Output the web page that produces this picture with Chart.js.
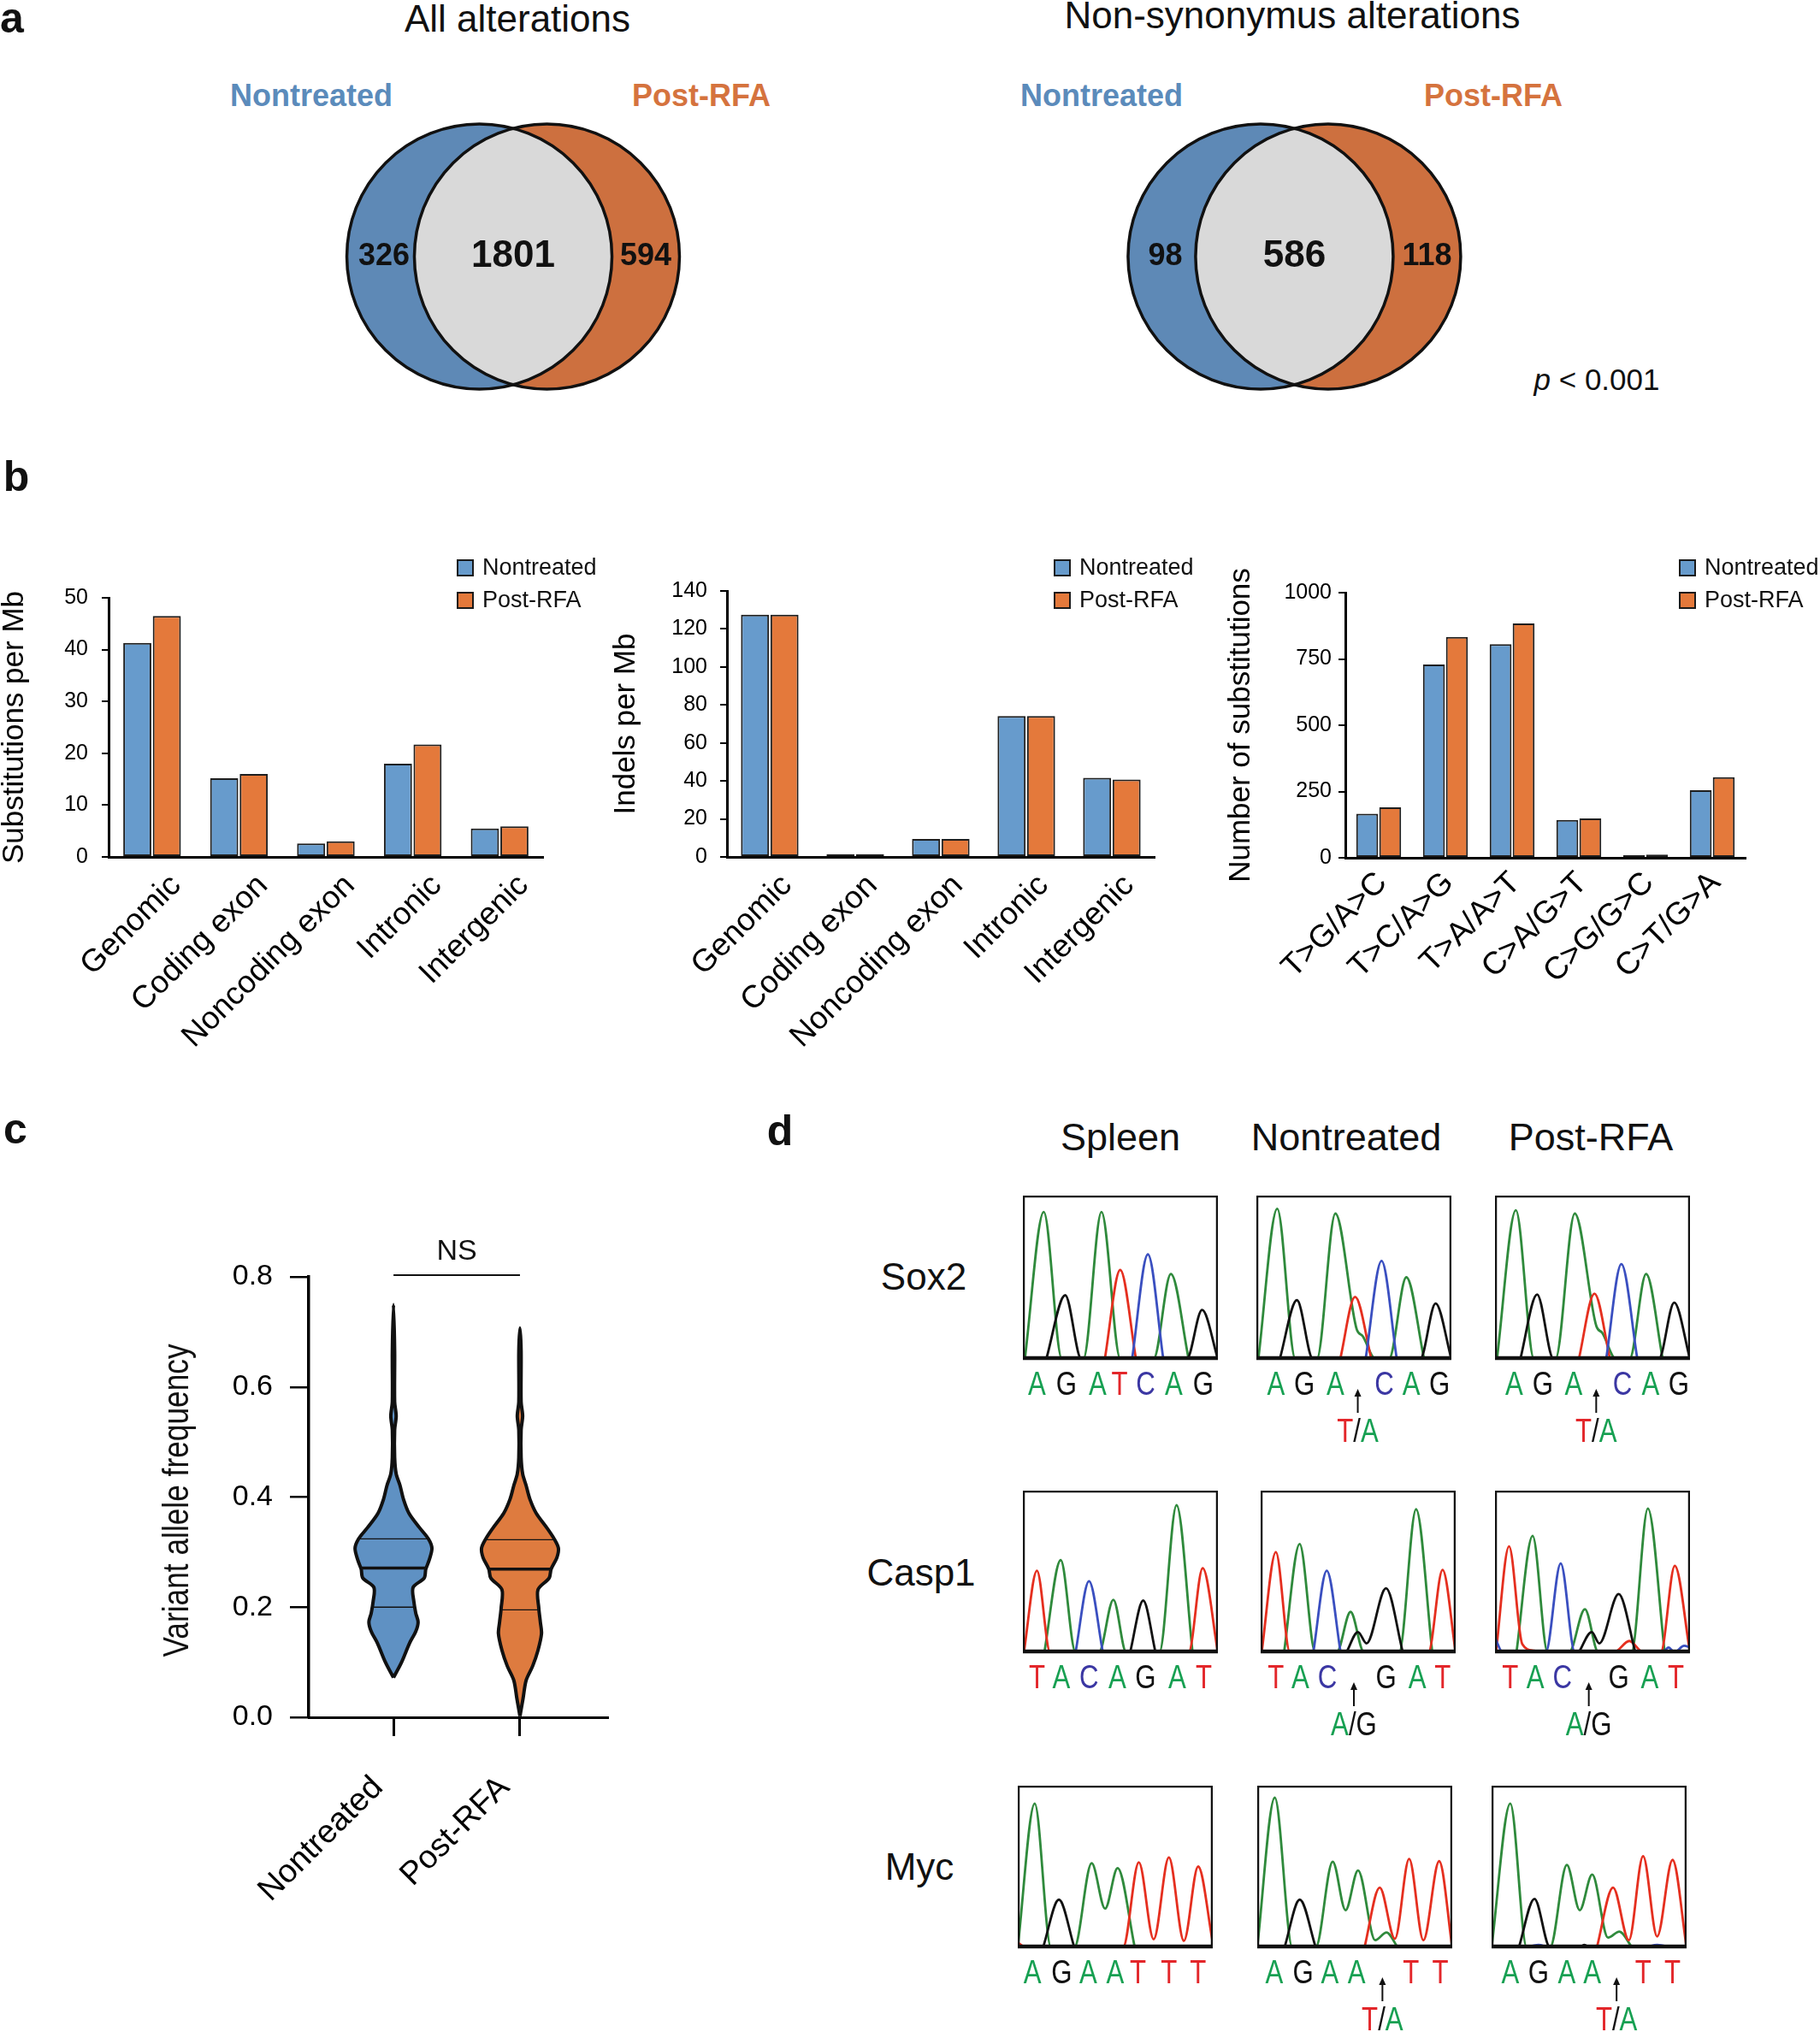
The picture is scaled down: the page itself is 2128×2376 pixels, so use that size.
<!DOCTYPE html>
<html><head><meta charset="utf-8">
<script src="https://cdn.jsdelivr.net/npm/chart.js@4.4.1/dist/chart.umd.min.js"></script>
<style>
html,body{margin:0;padding:0;background:#fff;}
#root{position:relative;width:2128px;height:2376px;overflow:hidden;background:#fff;font-family:'Liberation Sans',Arial,sans-serif;}
#root canvas{position:absolute;}
.t{position:absolute;transform:translate(-50%,-50%);white-space:nowrap;line-height:1;color:#111;}
</style></head><body><div id="root"></div>
<script>
// ================= DATA =================
const GROUPS = ['Nontreated', 'Post-RFA'];

// Venn counts: [only Nontreated, shared, only Post-RFA]
const VENN_ALL = [326, 1801, 594];
const VENN_NONSYN = [98, 586, 118];

// Panel b
const REGION_CATS = ['Genomic', 'Coding exon', 'Noncoding exon', 'Intronic', 'Intergenic'];
const SUBS_NT  = [41.3, 15.2, 2.6, 18.0, 5.5];
const SUBS_RFA = [46.5, 16.0, 3.0, 21.7, 5.9];
const INDEL_NT  = [127.5, 1.5, 9.5, 74.2, 41.6];
const INDEL_RFA = [127.5, 1.5, 9.5, 74.2, 40.7];
const SPEC_CATS = ['T>G/A>C', 'T>C/A>G', 'T>A/A>T', 'C>A/G>T', 'C>G/G>C', 'C>T/G>A'];
const SPEC_NT  = [166, 729, 806, 143, 10, 255];
const SPEC_RFA = [190, 833, 884, 148, 12, 304];

// Panel c: violin outlines (VAF level, relative density) and quartiles
const VAF_LEVELS_NT = [0.072, 0.10, 0.135, 0.156, 0.173, 0.189, 0.21, 0.236, 0.253, 0.269, 0.286, 0.307, 0.324, 0.345, 0.371, 0.396, 0.421, 0.442, 0.472, 0.522, 0.547, 0.573, 0.665, 0.75];
const VAF_DENS_NT   = [0, 0.21, 0.42, 0.58, 0.64, 0.58, 0.53, 0.51, 0.80, 0.84, 0.93, 1.0, 0.91, 0.67, 0.40, 0.26, 0.17, 0.07, 0.03, 0.03, 0.07, 0.03, 0.03, 0];
const VAF_LEVELS_RFA = [0.002, 0.034, 0.067, 0.093, 0.122, 0.152, 0.173, 0.198, 0.232, 0.253, 0.269, 0.29, 0.307, 0.324, 0.345, 0.371, 0.396, 0.421, 0.442, 0.472, 0.522, 0.547, 0.573, 0.665, 0.707];
const VAF_DENS_RFA   = [0, 0.08, 0.16, 0.33, 0.47, 0.56, 0.53, 0.49, 0.47, 0.76, 0.81, 0.96, 1.0, 0.89, 0.69, 0.42, 0.26, 0.16, 0.07, 0.03, 0.03, 0.07, 0.03, 0.03, 0];
const VAF_QUART_NT  = [0.200, 0.271, 0.324];
const VAF_QUART_RFA = [0.195, 0.269, 0.3225];
const NS_LEVEL = 0.803;

// Panel d: chromatogram traces [position, signal] per base
const SOX2_SPLEEN = {
  A: [[1,0],[10.7,90],[20,0],[31,0],[40.3,90],[50,0],[67,0],[75.9,52],[85,0]],
  G: [[12,0],[21.7,39],[30,0],[84,0],[91.9,30],[100,0]],
  T: [[42,0],[49.9,54.5],[58,0]],
  C: [[56,0],[64.1,64],[72,0]]
};
const SOX2_NT = {
  A: [[1,0],[10.7,92],[20,0],[31,0],[40.5,89],[51.5,18],[54.5,14],[61,0],[68,0],[76.9,50],[86,0]],
  G: [[12,0],[20.8,36],[29,0],[84,0],[91.9,34],[100,0]],
  T: [[43,0],[50.6,38],[59,0]],
  C: [[56,0],[64.2,60],[72,0]]
};
const SOX2_RFA = {
  A: [[1,0],[10.7,91],[20,0],[31,0],[40.9,89],[52,20],[55,16],[62,0],[69,0],[77.5,52],[86,0]],
  G: [[13,0],[21.6,39.5],[30,0],[84,0],[91.9,34.5],[100,0]],
  T: [[43,0],[51,40],[59,0]],
  C: [[57,0],[64.8,58],[73,0]]
};
const CASP1_SPLEEN = {
  T: [[0.5,0],[7.2,50.5],[14,0],[85,0],[92.2,52],[100,0]],
  A: [[11,0],[19.4,57],[27,0],[39,0],[46.4,32.5],[53,0],[70,0],[78.8,91],[87,0]],
  C: [[27,0],[33.9,44],[41,0]],
  G: [[55,0],[61.7,32],[68,0]]
};
const CASP1_NT = {
  T: [[0.5,0],[7.8,62],[15,0],[86,0],[93.3,51],[100,0]],
  A: [[12,0],[20,67],[28,0],[39,0],[46.1,25],[53,0],[71,0],[79.7,88.5],[88,0]],
  C: [[27,0],[33.9,50.5],[41,0]],
  G: [[44,0],[49.9,12.5],[54.3,5.5],[64.3,39.6],[72.9,0]]
};
const CASP1_RFA = {
  T: [[0.5,0],[7.2,65.5],[14,5],[20,1],[24,0],[61,0],[68.9,7],[76,0],[85,0],[92.2,53.5],[100,0]],
  A: [[11,0],[19.3,72],[27,0],[38,0],[46.1,26.7],[53,0],[70,0],[78.4,89],[87,0]],
  C: [[0,9],[4,0],[26,0],[33.7,55],[41,0],[86,0],[89,3],[92,0],[97,4],[100,3]],
  G: [[43,0],[49.6,12.5],[53.5,5.5],[63.4,36],[72,0]]
};
const MYC_SPLEEN = {
  A: [[0,0],[8.7,89],[17,0],[29,0],[37.9,52],[44.8,24],[51.2,49],[60,0]],
  G: [[13,0],[21.1,29.5],[29,0]],
  T: [[0,3],[4,0],[54,0],[62.1,52.6],[69.7,5],[77.5,55.6],[85.2,4],[92.5,50],[100,3]]
};
const MYC_NT = {
  A: [[0,0],[9,92.6],[18,0],[30,0],[38.7,53],[45.3,23],[51.7,47.6],[60.5,4.4],[66.3,9.2],[72,0]],
  G: [[14,0],[21.8,29.5],[30,0]],
  T: [[55,0],[62.8,37],[70.6,5.3],[77.9,54.7],[85.2,4.4],[93.3,53.3],[100,0]]
};
const MYC_RFA = {
  A: [[0,0],[9.6,89],[18,0],[30,0],[38.6,51],[45.2,23],[51.6,45],[59.7,6],[65.5,9.7],[72,0]],
  G: [[14,0],[22,30],[30,0],[45,0],[47.5,1.5],[50,0]],
  T: [[54,0],[62.3,37],[70.4,4.4],[77.7,56.4],[84.9,6.7],[92.8,54.1],[100,0]],
  C: [[18,0],[24,1.5],[30,0],[78,0],[85,1.5],[92,0]]
};

// base calls (null = heterozygous site marked with arrow) and their positions
const SOX2_SEQ_SPLEEN = ['A','G','A','T','C','A','G'];
const SOX2_SEQ_MUT    = ['A','G','A',null,'C','A','G'];
const SOX2_POS_SPLEEN = [7.2, 22.3, 38.3, 49.6, 62.9, 77.4, 92.5];
const SOX2_POS_NT     = [10.1, 24.6, 40.5, 52, 65.6, 79.5, 93.9];
const SOX2_POS_RFA    = [9.8, 24.5, 40.3, 51.9, 65.4, 79.8, 94.2];
const SOX2_HET = ['T', 'A'];
const CASP1_SEQ_SPLEEN = ['T','A','C','A','G','A','T'];
const CASP1_SEQ_MUT    = ['T','A','C',null,'G','A','T'];
const CASP1_POS_SPLEEN = [7.2, 19.7, 33.9, 48.4, 62.9, 79.1, 92.8];
const CASP1_POS_NT     = [7.8, 20.3, 34.2, 47.8, 64.3, 80.3, 93.3];
const CASP1_POS_RFA    = [7.8, 20.7, 34.6, 48.1, 63.4, 79.3, 92.8];
const CASP1_HET = ['A', 'G'];
const MYC_SEQ_SPLEEN = ['A','G','A','A','T','T','T'];
const MYC_SEQ_MUT    = ['A','G','A','A',null,'T','T'];
const MYC_POS_SPLEEN = [7.5, 22.5, 36.1, 50, 61.6, 77.5, 92.5];
const MYC_POS_NT     = [8.7, 23.5, 37.2, 50.9, 64.2, 78.8, 93.9];
const MYC_POS_RFA    = [9.6, 24.1, 38.6, 51.6, 64.1, 77.7, 92.8];
const MYC_HET = ['T', 'A'];

// ================= STYLE =================
const SANS = "'Liberation Sans', Arial, Helvetica, sans-serif";
const BAR_BLUE = '#679bcc', BAR_ORANGE = '#e4793b', BAR_EDGE = '#1e1e1e';
const VENN_BLUE = '#5e89b6', VENN_ORANGE = '#cd703f', VENN_GRAY = '#d9d9d9';
const VIO_BLUE = '#5f91c3', VIO_ORANGE = '#de7b3f';
const TRACE_COL = {A: '#2f8a3c', C: '#3a4fc0', G: '#111111', T: '#e52f1f'};
const LETTER_COL = {A: '#17a052', C: '#3b37a3', G: '#111111', T: '#e3262a'};
const CONDENSE = 0.8;

Chart.defaults.font.family = SANS;
Chart.defaults.color = '#000';

const root = document.getElementById('root');
function canvasAt(l, t, w, h) {
  const c = document.createElement('canvas');
  c.width = w; c.height = h;
  c.style.left = l + 'px'; c.style.top = t + 'px';
  c.style.width = w + 'px'; c.style.height = h + 'px';
  root.appendChild(c);
  return c;
}
function text(html, x, y, css) {
  const d = document.createElement('div');
  d.className = 't';
  d.innerHTML = html;
  d.style.cssText = 'left:' + x + 'px;top:' + y + 'px;' + css;
  root.appendChild(d);
}

// ================= PANEL LABELS / TEXT =================
const PANEL_FONT = 'font-weight:bold;font-size:50px;font-family:' + SANS + ';';
text('a', 14, 21, PANEL_FONT);
text('b', 19, 557, PANEL_FONT);
text('c', 18, 1320, PANEL_FONT);
text('d', 912, 1322, PANEL_FONT);

const TITLE_FONT = 'font-size:44px;font-family:' + SANS + ';';
text('All alterations', 605, 22, TITLE_FONT);
text('Non-synonymus alterations', 1511, 18, TITLE_FONT);
const SET_FONT = 'font-weight:bold;font-size:36px;font-family:' + SANS + ';';
text(GROUPS[0], 364, 112, SET_FONT + 'color:#5b8bbb;');
text(GROUPS[1], 820, 112, SET_FONT + 'color:#d5733e;');
text(GROUPS[0], 1288, 112, SET_FONT + 'color:#5b8bbb;');
text(GROUPS[1], 1746, 112, SET_FONT + 'color:#d5733e;');
text('<i>p</i> &lt; 0.001', 1867, 443, 'font-size:35px;font-family:' + SANS + ';');

const HEAD_FONT = 'font-size:45px;font-family:' + SANS + ';';
text('Spleen', 1310, 1329, HEAD_FONT);
text(GROUPS[0], 1574, 1329, HEAD_FONT);
text(GROUPS[1], 1860, 1329, HEAD_FONT);
const ROW_FONT = 'font-size:44px;font-family:' + SANS + ';';
text('Sox2', 1080, 1493, ROW_FONT);
text('Casp1', 1077, 1839, ROW_FONT);
text('Myc', 1075, 2183, ROW_FONT);

// ================= PANEL a: VENN =================
const vennPlugin = {
  id: 'venn',
  afterDatasetsDraw(chart, args, o) {
    const ctx = chart.ctx;
    const a = chart.getDatasetMeta(0).data[0], b = chart.getDatasetMeta(1).data[0];
    const r = a.options.radius;
    ctx.save();
    ctx.beginPath(); ctx.arc(a.x, a.y, r, 0, Math.PI * 2); ctx.clip();
    ctx.beginPath(); ctx.arc(b.x, b.y, r, 0, Math.PI * 2);
    ctx.fillStyle = VENN_GRAY; ctx.fill();
    ctx.restore();
    ctx.save();
    ctx.lineWidth = 3.5; ctx.strokeStyle = '#111';
    [a, b].forEach(p => { ctx.beginPath(); ctx.arc(p.x, p.y, r, 0, Math.PI * 2); ctx.stroke(); });
    const mid = (a.x + b.x) / 2;
    ctx.fillStyle = '#111'; ctx.textAlign = 'center'; ctx.textBaseline = 'middle';
    ctx.font = 'bold 36px ' + SANS;
    ctx.fillText(String(o.counts[0]), mid - r + 4, a.y);
    ctx.fillText(String(o.counts[2]), mid + r, a.y);
    ctx.font = 'bold 44px ' + SANS;
    ctx.fillText(String(o.counts[1]), mid, a.y);
    ctx.restore();
  }
};
function venn(left, xmin, counts) {
  const c = canvasAt(left, 100, 600, 400);
  new Chart(c, {
    type: 'scatter',
    data: { datasets: [
      { label: GROUPS[0], data: [{x: 1, y: 0}], pointRadius: 155, pointBackgroundColor: VENN_BLUE, pointBorderWidth: 0, clip: false },
      { label: GROUPS[1], data: [{x: 2, y: 0}], pointRadius: 155, pointBackgroundColor: VENN_ORANGE, pointBorderWidth: 0, clip: false }
    ]},
    options: {
      responsive: false, animation: false, events: [],
      layout: { padding: 0, autoPadding: false },
      scales: { x: { display: false, min: xmin, max: xmin + 7.6 }, y: { display: false, min: -1, max: 1 } },
      plugins: { legend: { display: false }, tooltip: { enabled: false }, venn: { counts } }
    },
    plugins: [vennPlugin]
  });
}
venn(300, -2.3, VENN_ALL);
venn(1200, -2.47, VENN_NONSYN);

// ================= PANEL b: BARS =================
const legendPlugin = {
  id: 'boxLegend',
  afterDraw(chart, args, o) {
    const ctx = chart.ctx;
    ctx.save();
    chart.data.datasets.forEach((ds, i) => {
      const x = o.x, y = o.y + i * o.gap;
      ctx.fillStyle = ds.backgroundColor; ctx.fillRect(x, y, 18, 18);
      ctx.lineWidth = 2; ctx.strokeStyle = '#1a1a1a'; ctx.strokeRect(x, y, 18, 18);
      ctx.fillStyle = '#111'; ctx.font = '27px ' + SANS;
      ctx.textBaseline = 'middle'; ctx.textAlign = 'left';
      ctx.fillText(ds.label, x + 29, y + 10);
    });
    ctx.restore();
  }
};
function barChart(cfg) {
  const c = canvasAt(cfg.left, cfg.top, cfg.width, cfg.height);
  new Chart(c, {
    type: 'bar',
    data: { labels: cfg.labels, datasets: [
      { label: GROUPS[0], data: cfg.nt, backgroundColor: BAR_BLUE, borderColor: BAR_EDGE, borderWidth: 2, borderSkipped: false },
      { label: GROUPS[1], data: cfg.rfa, backgroundColor: BAR_ORANGE, borderColor: BAR_EDGE, borderWidth: 2, borderSkipped: false }
    ]},
    options: {
      responsive: false, animation: false, events: [],
      layout: { padding: { top: cfg.padTop, right: cfg.padRight, left: 0, bottom: 0 }, autoPadding: false },
      datasets: { bar: { categoryPercentage: cfg.catPct, barPercentage: 0.95 } },
      scales: {
        x: {
          grid: { display: false, drawTicks: false },
          border: { display: true, color: '#000', width: 3 },
          ticks: { color: '#000', font: { size: 37 }, minRotation: 45, maxRotation: 45, autoSkip: false, padding: cfg.xPad, labelOffset: cfg.xOffset },
          afterFit: s => { s.height = cfg.xHeight; }
        },
        y: {
          min: 0, max: cfg.yMax,
          ticks: { stepSize: cfg.yStep, color: '#000', font: { size: 25 }, padding: cfg.yPad, callback: v => String(v) },
          grid: { drawOnChartArea: false, drawTicks: true, tickLength: 8, lineWidth: 2, color: '#000' },
          border: { display: true, color: '#000', width: 3 },
          title: { display: true, text: cfg.yTitle, color: '#000', font: { size: 35, lineHeight: 1 }, padding: { top: cfg.titlePad, bottom: 0 } },
          afterFit: s => { s.width = cfg.yWidth; }
        }
      },
      plugins: { legend: { display: false }, tooltip: { enabled: false }, boxLegend: { x: cfg.legX, y: cfg.legY, gap: 38 } }
    },
    plugins: [legendPlugin]
  });
}
barChart({ left: 0, top: 600, width: 720, height: 660, labels: REGION_CATS, nt: SUBS_NT, rfa: SUBS_RFA,
  padTop: 99, padRight: 85, yWidth: 127, xHeight: 258, titlePad: 0, yMax: 50, yStep: 10, yTitle: 'Substitutions per Mb',
  catPct: 0.68, xPad: 12, xOffset: 28, yPad: 16, legX: 535, legY: 55 });
barChart({ left: 700, top: 600, width: 720, height: 660, labels: REGION_CATS, nt: INDEL_NT, rfa: INDEL_RFA,
  padTop: 91, padRight: 70, yWidth: 150, xHeight: 258, titlePad: 15, yMax: 140, yStep: 20, yTitle: 'Indels per Mb',
  catPct: 0.69, xPad: 12, xOffset: 20, yPad: 15, legX: 533, legY: 55 });
barChart({ left: 1420, top: 600, width: 708, height: 660, labels: SPEC_CATS, nt: SPEC_NT, rfa: SPEC_RFA,
  padTop: 93, padRight: 87, yWidth: 153, xHeight: 257, titlePad: 14, yMax: 1000, yStep: 250, yTitle: 'Number of substitutions',
  catPct: 0.69, xPad: 8, xOffset: 4, yPad: 8, legX: 544, legY: 55 });

// ================= PANEL c: VIOLIN =================
const VIO_HALF = 0.304; // max half-width in x-axis units
function violinPoints(levels, dens, center) {
  const right = levels.map((v, i) => ({ x: center + dens[i] * VIO_HALF, y: v }));
  const left = levels.map((v, i) => ({ x: center - dens[i] * VIO_HALF, y: v })).reverse();
  return right.concat(left.slice(1));
}
function interp(levels, dens, v) {
  for (let i = 1; i < levels.length; i++) {
    if (v <= levels[i]) {
      const t = (v - levels[i - 1]) / (levels[i] - levels[i - 1]);
      return dens[i - 1] + t * (dens[i] - dens[i - 1]);
    }
  }
  return 0;
}
const violinPlugin = {
  id: 'violinExtras',
  afterDatasetsDraw(chart, args, o) {
    const { ctx, scales: { x, y }, chartArea: area } = chart;
    ctx.save();
    ctx.strokeStyle = '#111';
    o.groups.forEach((g, gi) => {
      const c = gi + 1;
      g.quart.forEach((q, qi) => {
        const d = interp(g.levels, g.dens, q) * VIO_HALF;
        ctx.beginPath();
        ctx.moveTo(x.getPixelForValue(c - d), y.getPixelForValue(q));
        ctx.lineTo(x.getPixelForValue(c + d), y.getPixelForValue(q));
        ctx.lineWidth = qi === 1 ? 3.5 : 1.3;
        ctx.stroke();
      });
    });
    const yb = y.getPixelForValue(o.nsLevel);
    const x1 = x.getPixelForValue(1), x2 = x.getPixelForValue(2);
    ctx.lineWidth = 2;
    ctx.beginPath(); ctx.moveTo(x1, yb); ctx.lineTo(x2, yb); ctx.stroke();
    ctx.font = '34px ' + SANS; ctx.textAlign = 'center'; ctx.textBaseline = 'alphabetic'; ctx.fillStyle = '#111';
    ctx.fillText('NS', (x1 + x2) / 2, yb - 18);
    // condensed y-axis title
    ctx.translate(o.titleX, (area.top + area.bottom) / 2 + 4);
    ctx.rotate(-Math.PI / 2);
    ctx.scale(0.84, 1);
    ctx.font = '42px ' + SANS; ctx.textBaseline = 'middle';
    ctx.fillText(o.title, 0, 0);
    ctx.restore();
  }
};
(function () {
  const c = canvasAt(150, 1420, 600, 820);
  new Chart(c, {
    type: 'scatter',
    data: { datasets: [
      { label: GROUPS[0], data: violinPoints(VAF_LEVELS_NT, VAF_DENS_NT, 1), showLine: true, fill: 'shape', backgroundColor: VIO_BLUE, borderColor: '#111', borderWidth: 4, pointRadius: 0, tension: 0.3 },
      { label: GROUPS[1], data: violinPoints(VAF_LEVELS_RFA, VAF_DENS_RFA, 2), showLine: true, fill: 'shape', backgroundColor: VIO_ORANGE, borderColor: '#111', borderWidth: 4, pointRadius: 0, tension: 0.3 }
    ]},
    options: {
      responsive: false, animation: false, events: [],
      layout: { padding: { top: 73, right: 40, left: 0, bottom: 0 }, autoPadding: false },
      scales: {
        x: {
          type: 'linear', min: 0.33, max: 2.69,
          afterBuildTicks: s => { s.ticks = [{ value: 1 }, { value: 2 }]; },
          ticks: { callback: v => GROUPS[v - 1], color: '#000', font: { size: 38 }, minRotation: 45, maxRotation: 45, autoSkip: false, padding: 38, labelOffset: -18 },
          grid: { drawOnChartArea: false, drawTicks: true, tickLength: 22, lineWidth: 3, color: '#000' },
          border: { display: true, color: '#000', width: 3 },
          afterFit: s => { s.height = 232; }
        },
        y: {
          min: 0, max: 0.8,
          afterBuildTicks: s => { s.ticks = [0, 0.2, 0.4, 0.6, 0.8].map(v => ({ value: v })); },
          ticks: { callback: v => Number(v).toFixed(1), color: '#000', font: { size: 34 }, padding: 20 },
          grid: { drawOnChartArea: false, drawTicks: true, tickLength: 22, lineWidth: 2.5, color: '#000' },
          border: { display: true, color: '#000', width: 3.5 },
          afterFit: s => { s.width = 211; }
        }
      },
      plugins: { legend: { display: false }, tooltip: { enabled: false },
        violinExtras: { nsLevel: NS_LEVEL, title: 'Variant allele frequency', titleX: 58, groups: [
          { levels: VAF_LEVELS_NT, dens: VAF_DENS_NT, quart: VAF_QUART_NT },
          { levels: VAF_LEVELS_RFA, dens: VAF_DENS_RFA, quart: VAF_QUART_RFA } ] } }
    },
    plugins: [violinPlugin]
  });
})();

// ================= PANEL d: CHROMATOGRAMS =================
const LETTER_SPACE = 140;
function condensedText(ctx, str, x, y) {
  ctx.save(); ctx.translate(x, y); ctx.scale(CONDENSE, 1); ctx.fillText(str, 0, 0); ctx.restore();
}
const chromoPlugin = {
  id: 'chromo',
  afterDatasetsDraw(chart, args, o) {
    const { ctx, chartArea: a, scales: { x } } = chart;
    ctx.save();
    ctx.strokeStyle = '#111';
    ctx.lineWidth = 2.5;
    ctx.strokeRect(a.left + 1, a.top + 1, a.right - a.left - 2, a.bottom - a.top - 2);
    ctx.lineWidth = 4.5;
    ctx.beginPath(); ctx.moveTo(a.left, a.bottom - 1); ctx.lineTo(a.right, a.bottom - 1); ctx.stroke();
    ctx.font = '39px ' + SANS; ctx.textAlign = 'center'; ctx.textBaseline = 'middle';
    o.seq.forEach((b, i) => {
      const px = x.getPixelForValue(o.pos[i]);
      if (b) {
        ctx.fillStyle = LETTER_COL[b];
        condensedText(ctx, b, px, a.bottom + 31);
      } else {
        ctx.strokeStyle = '#111'; ctx.lineWidth = 2;
        ctx.beginPath(); ctx.moveTo(px, a.bottom + 63); ctx.lineTo(px, a.bottom + 41); ctx.stroke();
        ctx.fillStyle = '#111';
        ctx.beginPath(); ctx.moveTo(px, a.bottom + 35); ctx.lineTo(px - 4, a.bottom + 44); ctx.lineTo(px + 4, a.bottom + 44); ctx.closePath(); ctx.fill();
        const parts = [[o.het[0], LETTER_COL[o.het[0]]], ['/', '#111'], [o.het[1], LETTER_COL[o.het[1]]]];
        const widths = parts.map(p => ctx.measureText(p[0]).width * CONDENSE);
        let cx = px - widths.reduce((s, w) => s + w, 0) / 2;
        parts.forEach((p, k) => { ctx.fillStyle = p[1]; condensedText(ctx, p[0], cx + widths[k] / 2, a.bottom + 86); cx += widths[k]; });
      }
    });
    ctx.restore();
  }
};
function chromatogram(left, top, h, traces, seq, pos, het) {
  const c = canvasAt(left, top, 228, h + LETTER_SPACE);
  new Chart(c, {
    type: 'line',
    data: { datasets: ['G', 'C', 'T', 'A'].filter(b => traces[b]).map(b => ({
      label: b, data: traces[b].map(p => ({ x: p[0], y: p[1] })),
      borderColor: TRACE_COL[b], borderWidth: 2.8, pointRadius: 0, fill: false, cubicInterpolationMode: 'monotone'
    })) },
    options: {
      responsive: false, animation: false, events: [],
      layout: { padding: { top: 0, left: 0, right: 0, bottom: LETTER_SPACE }, autoPadding: false },
      scales: { x: { type: 'linear', min: 0, max: 100, display: false }, y: { min: 0, max: 100, display: false } },
      plugins: { legend: { display: false }, tooltip: { enabled: false }, chromo: { seq, pos, het } }
    },
    plugins: [chromoPlugin]
  });
}
chromatogram(1196, 1398, 191, SOX2_SPLEEN, SOX2_SEQ_SPLEEN, SOX2_POS_SPLEEN, null);
chromatogram(1469, 1398, 191, SOX2_NT, SOX2_SEQ_MUT, SOX2_POS_NT, SOX2_HET);
chromatogram(1748, 1398, 191, SOX2_RFA, SOX2_SEQ_MUT, SOX2_POS_RFA, SOX2_HET);
chromatogram(1196, 1743, 189, CASP1_SPLEEN, CASP1_SEQ_SPLEEN, CASP1_POS_SPLEEN, null);
chromatogram(1474, 1743, 189, CASP1_NT, CASP1_SEQ_MUT, CASP1_POS_NT, CASP1_HET);
chromatogram(1748, 1743, 189, CASP1_RFA, CASP1_SEQ_MUT, CASP1_POS_RFA, CASP1_HET);
chromatogram(1190, 2088, 189, MYC_SPLEEN, MYC_SEQ_SPLEEN, MYC_POS_SPLEEN, null);
chromatogram(1470, 2088, 189, MYC_NT, MYC_SEQ_MUT, MYC_POS_NT, MYC_HET);
chromatogram(1744, 2088, 189, MYC_RFA, MYC_SEQ_MUT, MYC_POS_RFA, MYC_HET);
</script></body></html>
